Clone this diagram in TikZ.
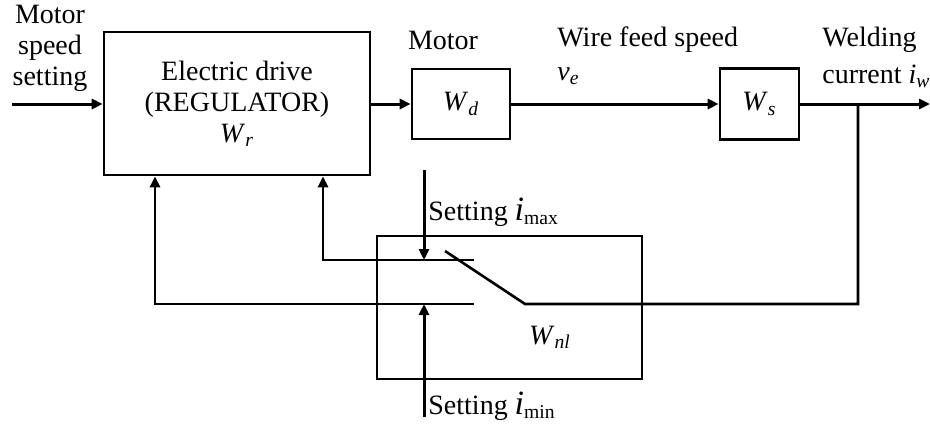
\documentclass[tikz,border=0pt]{standalone}
\usepackage{fontspec}
\setmainfont{Liberation Serif}
\usetikzlibrary{arrows.meta}
\newcommand\mysub[2]{\textit{#1}\textsubscript{\textit{#2}}}
\newcommand\bigi[1]{{\fontsize{17}{17}\selectfont\itshape i}\textsubscript{#1}}
\begin{document}
\begin{tikzpicture}[x=0.5pt,y=-0.5pt,
  every node/.style={font=\fontsize{14}{15.5}\selectfont},
  blk/.style={draw,line width=1.3pt,inner sep=0pt},
  txt/.style={inner sep=0pt},
  ln/.style={line width=1.3pt},
  arr/.style={line width=1.5pt,-{Triangle[length=5.5pt,width=5pt]}}]
\useasboundingbox (0,0) rectangle (930,423);
% blocks
\node[blk,minimum width=133pt,minimum height=71.5pt,align=center] (reg) at (237,103.5)
  {Electric drive\\(REGULATOR)\\\mysub{W}{r}};
\node[blk,minimum width=49pt,minimum height=35pt] (wd) at (461,104) {\mysub{W}{d}};
\node[blk,minimum width=39.5pt,minimum height=35.5pt] (ws) at (759.5,104) {\mysub{W}{s}};
\node[blk,line width=1.2pt,minimum width=132.5pt,minimum height=71.5pt] (nl) at (509.5,307.5) {};
\node[txt] (wnl) at (550,337) {\mysub{W}{nl}};
% labels
\node[txt,align=center] (mss) at (50,48) {Motor\\speed\\setting};
\node[txt] (mot) at (443,40) {Motor};
\node[txt,anchor=west] (wfs) at (557,40) {Wire feed speed};
\node[txt,anchor=west] (ve) at (557,76) {\mysub{v}{e}};
\node[txt,anchor=west] (wel) at (822,40) {Welding};
\node[txt,anchor=west] (cur) at (822,76) {current \mysub{i}{w}};
\node[txt,anchor=west] (smax) at (428,212) {Setting \bigi{max}};
\node[txt,anchor=west] (smin) at (428,406) {Setting \bigi{min}};
% coordinates
\coordinate (in) at (12,104);
\coordinate (out) at (930,104);
\coordinate (br) at (858,104);
\coordinate (brd) at (858,304);
\coordinate (sw1) at (525,304);
\coordinate (sw2) at (445,251);
\coordinate (cu) at (474,260);
\coordinate (cl) at (474,304);
\coordinate (fu) at (323,260);
\coordinate (fl) at (155,304);
\coordinate (maxs) at (424,170);
\coordinate (mins) at (424,417);
% connectors
\draw[arr] (in) -- (in -| reg.west);
\draw[arr] (wd.west -| reg.east) -- (wd.west);
\draw[arr] (wd.east) -- (ws.west);
\draw[arr] (ws.east) -- (out);
\draw[ln] (br) -- (brd) -- (sw1) -- (sw2);
\draw[arr,line width=1.3pt] (cu) -- (fu) -- (fu |- reg.south);
\draw[arr,line width=1.3pt] (cl) -- (fl) -- (fl |- reg.south);
\draw[arr] (maxs) -- (maxs |- cu);
\draw[arr] (mins) -- (mins |- cl);
\end{tikzpicture}
\end{document}
